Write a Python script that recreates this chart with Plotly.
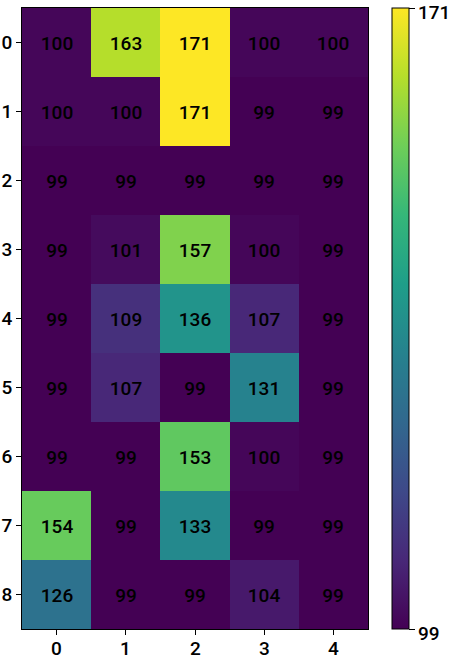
import plotly.graph_objects as go

rows = ["0", "1", "2", "3", "4", "5", "6", "7", "8"]
cols = ["0", "1", "2", "3", "4"]
values = [
    [100, 163, 171, 100, 100],
    [100, 100, 171, 99, 99],
    [99, 99, 99, 99, 99],
    [99, 101, 157, 100, 99],
    [99, 109, 136, 107, 99],
    [99, 107, 99, 131, 99],
    [99, 99, 153, 100, 99],
    [154, 99, 133, 99, 99],
    [126, 99, 99, 104, 99],
]
cbar_ticks = [99, 171]

FONT = "Roboto"
W, H = 449, 661
ML, MR, MT, MB = 22, 81, 8, 32
plot_w = W - ML - MR
CB_X = 1.069       # colorbar left edge, paper fraction
CB_THICK = 17
TICKLEN = 5
LABEL_FONT = dict(family=FONT, size=19, color="black", weight=500)

zmin, zmax = min(cbar_ticks), max(cbar_ticks)

fig = go.Figure(
    go.Heatmap(
        z=values,
        x=list(range(len(cols))),
        y=list(range(len(rows))),
        colorscale="Viridis",
        zmin=zmin,
        zmax=zmax,
        text=[[str(v) for v in r] for r in values],
        texttemplate="%{text}",
        textfont=dict(family=FONT, size=19, color="black", weight=500),
        hoverinfo="skip",
        colorbar=dict(
            tickvals=cbar_ticks,
            showticklabels=False,
            ticks="outside",
            ticklen=TICKLEN + 1,
            tickcolor="black",
            outlinecolor="black",
            outlinewidth=1,
            thickness=CB_THICK,
            len=1,
            lenmode="fraction",
            x=CB_X,
            xanchor="left",
            xpad=0,
            ypad=0,
            y=0.5,
            yanchor="middle",
        ),
    )
)

# colorbar tick labels, placed at the colorbar's value positions
label_x = CB_X + (CB_THICK + TICKLEN + 2) / plot_w
for t in cbar_ticks:
    fig.add_annotation(
        x=label_x,
        y=(t - zmin) / (zmax - zmin),
        xref="paper",
        yref="paper",
        text=str(t),
        showarrow=False,
        xanchor="left",
        yanchor="middle",
        yshift=-4,
        font=LABEL_FONT,
    )

# x tick labels, placed at the x axis positions just below the ticks
for i, c in enumerate(cols):
    fig.add_annotation(
        x=i,
        y=0,
        xref="x",
        yref="paper",
        text=c,
        showarrow=False,
        xanchor="center",
        yanchor="middle",
        yshift=-19,
        font=LABEL_FONT,
    )

fig.update_layout(
    width=W,
    height=H,
    margin=dict(l=ML, r=MR, t=MT, b=MB, autoexpand=False),
    paper_bgcolor="white",
    plot_bgcolor="white",
    font=dict(family=FONT, size=19, color="black"),
)
axis_common = dict(
    ticks="outside",
    ticklen=TICKLEN,
    tickcolor="black",
    showline=True,
    linecolor="black",
    linewidth=1,
    mirror=True,
    showgrid=False,
    zeroline=False,
    automargin=False,
    tickfont=LABEL_FONT,
)
fig.update_xaxes(
    tickvals=list(range(len(cols))),
    showticklabels=False,
    range=[-0.5, len(cols) - 0.5],
    **axis_common,
)
fig.update_yaxes(
    tickvals=list(range(len(rows))),
    ticktext=rows,
    range=[len(rows) - 0.5, -0.5],
    **axis_common,
)

fig.write_html("out.html")
